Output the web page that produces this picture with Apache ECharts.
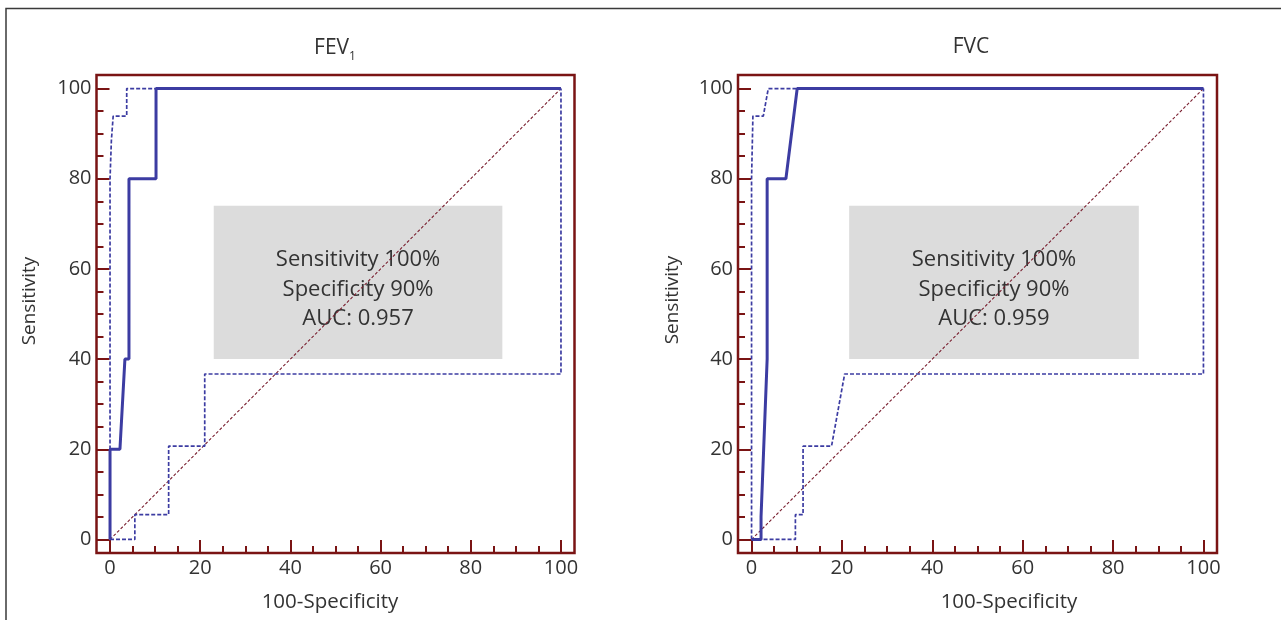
<!DOCTYPE html>
<html><head><meta charset="utf-8">
<script src="https://cdn.jsdelivr.net/npm/echarts@6/dist/echarts.min.js"></script>
<style>html,body{margin:0;padding:0;background:#fff}#c{width:1281px;height:620px}</style>
</head><body><div id="c"></div>
<script>
// ---- data ----
const majorTicks = [0, 20, 40, 60, 80, 100];
const minorTicks = [5, 10, 15, 25, 30, 35, 45, 50, 55, 65, 70, 75, 85, 90, 95];
const diagonal = [[0, 0], [100, 100]];

const fev1Roc   = [[0,0],[0,20],[2.2,20],[3.3,40],[4.2,40],[4.2,80],[10.2,80],[10.2,100],[100,100]];
const fev1Upper = [[0,0],[0,80],[0.3,88.5],[0.7,93.9],[3.7,93.9],[3.7,100],[100,100]];
const fev1Lower = [[0,0],[5.5,0],[5.5,5.5],[13,5.5],[13,20.7],[21,20.7],[21,36.7],[100,36.7],[100,100]];

const fvcRoc    = [[0,0],[2.1,0],[2.1,5],[3.45,40],[3.45,80],[7.6,80],[10.1,100],[100,100]];
const fvcUpper  = [[0,0],[0,80],[0.3,93.9],[2.6,93.9],[3.7,100],[100,100]];
const fvcLower  = [[0,0],[9.7,0],[9.7,5.5],[11.4,5.5],[11.4,20.7],[17.7,20.7],[20.6,36.7],[100,36.7],[100,100]];

const fev1Box = { x: [23, 87], y: [40, 74], lines: ['Sensitivity 100%', 'Specificity 90%', 'AUC: 0.957'] };
const fvcBox  = { x: [21.6, 85.7], y: [40, 74], lines: ['Sensitivity 100%', 'Specificity 90%', 'AUC: 0.959'] };

const xName = '100-Specificity';
const yName = 'Sensitivity';

// ---- styles ----
const FRAME = '#7a1414';
const BLUE = '#3c3ca2';
const TXT = '#333333';
const FONT = '"Open Sans", "DejaVu Sans", sans-serif';

function axis(dim, grid, ticks, len, withLabels) {
  const a = {
    type: 'value', gridIndex: grid, min: -3, max: 103,
    position: dim === 'x' ? 'bottom' : 'left',
    axisLine: { show: false, onZero: false },
    splitLine: { show: false },
    axisTick: { show: true, inside: true, length: len, customValues: ticks,
                lineStyle: { color: FRAME, width: 2 } },
    axisLabel: { show: withLabels, fontFamily: FONT, fontSize: 20, color: TXT, margin: 5 }
  };
  if (withLabels) a.axisLabel.customValues = majorTicks;
  return a;
}

const grids = [
  { left: 96.5, top: 75, width: 478, height: 478 },
  { left: 738, top: 75, width: 479, height: 478 }
];
grids.forEach(g => { g.show = true; g.borderColor = FRAME; g.borderWidth = 2.5; g.backgroundColor = 'transparent'; });

const xAxes = [], yAxes = [];
[0, 1].forEach(g => {
  xAxes.push(axis('x', g, majorTicks, 13, true));
  xAxes.push(axis('x', g, minorTicks, 7, false));
  yAxes.push(axis('y', g, majorTicks, 13, true));
  yAxes.push(axis('y', g, minorTicks, 7, false));
});

function panelSeries(g, roc, upper, lower, box) {
  const xi = g * 2, yi = g * 2;
  const common = { type: 'line', xAxisIndex: xi, yAxisIndex: yi, symbol: 'none', silent: true, animation: false };
  return [
    Object.assign({}, common, {
      data: diagonal, z: 2,
      lineStyle: { color: '#7a2030', width: 1.1, type: [3, 2] },
      markArea: {
        silent: true,
        itemStyle: { color: '#dcdcdc' },
        label: { show: true, position: 'inside', fontFamily: FONT, fontSize: 22, color: TXT,
                 lineHeight: 29.5, align: 'center', offset: [0, 7] },
        data: [[{ xAxis: box.x[0], yAxis: box.y[1], name: box.lines.join('\n') },
                { xAxis: box.x[1], yAxis: box.y[0] }]]
      }
    }),
    Object.assign({}, common, { data: lower, z: 3, lineStyle: { color: BLUE, width: 1.7, type: [4, 2] } }),
    Object.assign({}, common, { data: upper, z: 3, lineStyle: { color: BLUE, width: 1.7, type: [4, 2] } }),
    Object.assign({}, common, { data: roc, z: 4, lineStyle: { color: BLUE, width: 3 } })
  ];
}

const txt = (x, y, text, size, extra) => Object.assign({
  type: 'text', x: x, y: y, silent: true,
  style: { text: text, fontFamily: FONT, fontSize: size, fill: TXT, align: 'center', verticalAlign: 'middle' }
}, extra || {});

const chart = echarts.init(document.getElementById('c'), null, { renderer: 'canvas' });
chart.setOption({
  animation: false,
  backgroundColor: '#ffffff',
  grid: grids,
  xAxis: xAxes,
  yAxis: yAxes,
  series: panelSeries(0, fev1Roc, fev1Upper, fev1Lower, fev1Box)
    .concat(panelSeries(1, fvcRoc, fvcUpper, fvcLower, fvcBox)),
  graphic: [
    { type: 'polyline', silent: true, shape: { points: [[6, 620], [6, 8.5], [1281, 8.5]] },
      style: { stroke: '#3a3a3a', lineWidth: 1.5, fill: null } },
    { type: 'text', x: 335, y: 48, silent: true,
      style: { text: '{a|FEV}{b|1}', align: 'center', verticalAlign: 'middle',
               rich: { a: { fontFamily: FONT, fontSize: 21, fill: TXT, lineHeight: 30 },
                       b: { fontFamily: FONT, fontSize: 12, fill: TXT, lineHeight: 13, verticalAlign: 'bottom' } } } },
    txt(971, 47, 'FVC', 21),
    txt(330, 602, xName, 20.5),
    txt(1009, 602, xName, 20.5),
    txt(30, 301, yName, 19, { rotation: Math.PI / 2 }),
    txt(673, 300, yName, 19, { rotation: Math.PI / 2 })
  ]
});
</script>
</body></html>
